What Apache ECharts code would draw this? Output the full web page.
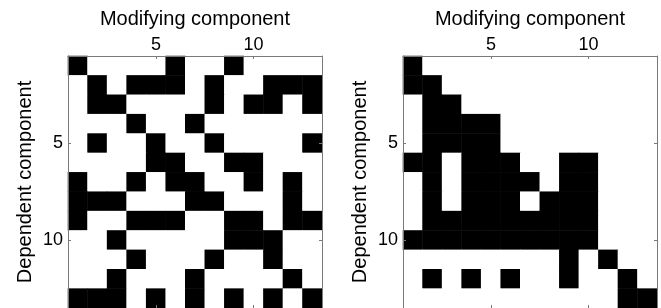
<!DOCTYPE html>
<html><head><meta charset="utf-8">
<script src="https://cdn.jsdelivr.net/npm/echarts@6/dist/echarts.min.js"></script>
<style>html,body{margin:0;padding:0;background:#fff}#c{width:661px;height:308px}</style>
</head><body><div id="c"></div>
<script>
// Component indices (both axes) and the labelled ticks
const components = ['1','2','3','4','5','6','7','8','9','10','11','12','13'];
const tickLabels = ['5','10'];
const xAxisTitle = 'Modifying component';
const yAxisTitle = 'Dependent component';

// Rows = dependent component (1..13), columns = modifying component (1..13)
const leftMatrix = [
  [1,0,0,0,0,1,0,0,1,0,0,0,0],
  [0,1,0,1,1,1,0,1,0,0,1,1,1],
  [0,1,1,0,0,0,0,1,0,1,1,0,1],
  [0,0,0,1,0,0,1,0,0,0,0,0,0],
  [0,1,0,0,1,0,0,1,0,0,0,0,1],
  [0,0,0,0,1,1,0,0,1,1,0,0,0],
  [1,0,0,1,0,1,1,0,0,1,0,1,0],
  [1,1,1,0,0,0,1,1,0,0,0,1,0],
  [1,0,0,1,1,1,0,0,1,1,0,1,1],
  [0,0,1,0,0,0,0,0,1,1,1,0,0],
  [0,0,0,1,0,0,0,1,0,0,1,0,0],
  [0,0,1,0,0,0,1,0,0,0,0,1,0],
  [1,1,1,0,1,0,1,0,1,0,1,0,1]
];
const rightMatrix = [
  [1,0,0,0,0,0,0,0,0,0,0,0,0],
  [1,1,0,0,0,0,0,0,0,0,0,0,0],
  [0,1,1,0,0,0,0,0,0,0,0,0,0],
  [0,1,1,1,1,0,0,0,0,0,0,0,0],
  [0,1,1,1,1,0,0,0,0,0,0,0,0],
  [1,1,0,1,1,1,0,0,1,1,0,0,0],
  [0,1,0,1,1,1,1,0,1,1,0,0,0],
  [0,1,0,1,1,1,0,1,1,1,0,0,0],
  [0,1,1,1,1,1,1,1,1,1,0,0,0],
  [1,1,1,1,1,1,1,1,1,1,0,0,0],
  [0,0,0,0,0,0,0,0,1,0,1,0,0],
  [0,1,0,1,0,1,0,0,1,0,0,1,0],
  [0,0,0,0,0,0,0,0,0,0,0,1,1]
];

const FONT = "'Liberation Sans', Arial, Helvetica, sans-serif";
const AXIS_COLOR = '#7a7a7a';
const showTick = (i, v) => tickLabels.includes(v);

function toCells(m) {
  const out = [];
  m.forEach((row, r) => row.forEach((v, c) => out.push([c, r, v])));
  return out;
}

const grids = [
  {left: 68, top: 56, width: 254, height: 254},
  {left: 403, top: 56, width: 254, height: 254}
];

const xAxes = [], yAxes = [], series = [];
[leftMatrix, rightMatrix].forEach((m, g) => {
  xAxes.push({
    type: 'category', gridIndex: g, position: 'top', data: components, z: 10,
    name: xAxisTitle, nameLocation: 'middle', nameGap: 27,
    nameTextStyle: {fontFamily: FONT, fontSize: 20, color: '#000'},
    axisLine: {show: true, lineStyle: {color: AXIS_COLOR, width: 1}},
    axisTick: {show: true, inside: true, length: 3, alignWithLabel: true, interval: showTick, lineStyle: {color: AXIS_COLOR}},
    axisLabel: {interval: showTick, margin: 2, fontFamily: FONT, fontSize: 18, color: '#000'},
    splitLine: {show: false}
  });
  xAxes.push({
    type: 'category', gridIndex: g, position: 'bottom', data: components, z: 10,
    axisLine: {show: true, lineStyle: {color: AXIS_COLOR, width: 1}},
    axisTick: {show: true, inside: true, length: 3, alignWithLabel: true, interval: showTick, lineStyle: {color: AXIS_COLOR}},
    axisLabel: {show: false}, splitLine: {show: false}
  });
  yAxes.push({
    type: 'category', gridIndex: g, position: 'left', inverse: true, data: components, z: 10,
    name: yAxisTitle, nameLocation: 'middle', nameGap: 33, nameRotate: 90,
    nameTextStyle: {fontFamily: FONT, fontSize: 20, color: '#000'},
    axisLine: {show: true, lineStyle: {color: AXIS_COLOR, width: 1}},
    axisTick: {show: true, inside: true, length: 3, alignWithLabel: true, interval: showTick, lineStyle: {color: AXIS_COLOR}},
    axisLabel: {interval: showTick, margin: 5, fontFamily: FONT, fontSize: 18, color: '#000'},
    splitLine: {show: false}
  });
  yAxes.push({
    type: 'category', gridIndex: g, position: 'right', inverse: true, data: components, z: 10,
    axisLine: {show: true, lineStyle: {color: AXIS_COLOR, width: 1}},
    axisTick: {show: true, inside: true, length: 3, alignWithLabel: true, interval: showTick, lineStyle: {color: AXIS_COLOR}},
    axisLabel: {show: false}, splitLine: {show: false}
  });
  series.push({
    type: 'heatmap', xAxisIndex: g * 2, yAxisIndex: g * 2,
    data: toCells(m), emphasis: {disabled: true}, silent: true,
    itemStyle: {borderWidth: 0}
  });
});

const chart = echarts.init(document.getElementById('c'), null, {renderer: 'canvas'});
chart.setOption({
  animation: false,
  backgroundColor: '#fff',
  grid: grids,
  xAxis: xAxes,
  yAxis: yAxes,
  visualMap: {show: false, type: 'continuous', min: 0, max: 1, seriesIndex: [0, 1], inRange: {color: ['#ffffff', '#000000']}},
  series: series
});
</script>
</body></html>
